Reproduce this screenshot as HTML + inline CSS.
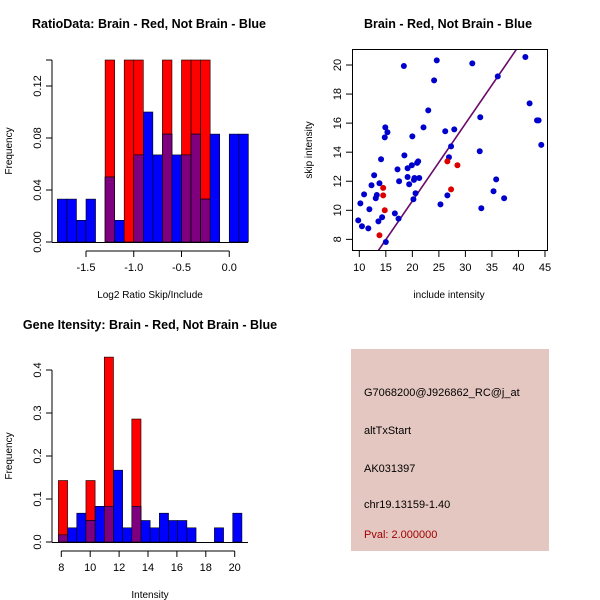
<!DOCTYPE html>
<html><head><meta charset="utf-8"><style>
body{margin:0;background:#fff}
svg{display:block;font-family:"Liberation Sans",Arial,sans-serif}
</style></head><body>
<svg id="chart" width="600" height="600" viewBox="0 0 600 600" xmlns="http://www.w3.org/2000/svg">
<rect width="600" height="600" fill="#fff"/>
<g id="p1"></g>
<g id="p2"></g>
<g id="p3"></g>
<g>
<rect x="351" y="349" width="198" height="202" fill="#e5c7c1"/>
<g font-size="11" fill="#000">
<text x="364" y="396">G7068200@J926862_RC@j_at</text>
<text x="364" y="434">altTxStart</text>
<text x="364" y="472">AK031397</text>
<text x="364" y="508">chr19.13159-1.40</text>
<text x="364" y="538" fill="#a00000">Pval: 2.000000</text>
</g></g>
</svg>
<script>
// ---- Plot 1 data ----
const ratioBinStart = -1.8;
const ratioBinWidth = 0.1;
const ratioBlue = [0.033,0.033,0.0167,0.033,0,0.05,0.0167,0,0.067,0.1,0.067,0.083,0.067,0.067,0.083,0.033,0.083,0,0.083,0.083];
const ratioRed  = [0,0,0,0,0,0.14,0,0.14,0.14,0,0,0.14,0,0.14,0.14,0.14,0,0,0,0];
const ratioXTicks = [-1.5,-1.0,-0.5,0.0];
const ratioXLabels = ["-1.5","-1.0","-0.5","0.0"];
const ratioYTicks = [0,0.04,0.08,0.12];
const ratioYLabels = ["0.00","0.04","0.08","0.12"];
// ---- Plot 3 data ----
const geneBinStart = 7.8;
const geneBinWidth = 0.635;
const geneBlue = [0.0167,0.033,0.067,0.05,0.083,0.083,0.167,0.033,0.083,0.05,0.033,0.067,0.05,0.05,0.033,0,0,0.033,0,0.067];
const geneRed  = [0.143,0,0,0.143,0,0.43,0,0,0.286,0,0,0,0,0,0,0,0,0,0,0];
const geneXTicks = [8,10,12,14,16,18,20];
const geneYTicks = [0,0.1,0.2,0.3,0.4];
const geneYLabels = ["0.0","0.1","0.2","0.3","0.4"];
// ---- Plot 2 data ----
const blueX = [9.8,10.5,10.2,10.9,11.7,11.9,12.3,12.8,13.1,13.3,13.6,13.8,14.1,14.3,14.9,14.8,15.3,15.0,16.7,17.2,17.4,17.5,18.4,18.5,19.1,19.1,19.4,19.9,20.0,20.2,20.3,20.4,20.6,20.9,21.1,21.3,22.1,23.0,24.1,24.6,25.3,26.2,26.6,26.9,27.3,27.9,31.3,32.7,32.8,33.0,35.3,35.8,36.1,37.3,41.3,42.1,43.5,43.8,44.3];
const blueY = [9.31,8.9,10.48,11.1,8.76,10.07,11.72,12.41,10.83,11.05,9.24,11.86,13.51,9.52,15.71,15.02,15.37,7.82,9.79,12.82,9.43,12.0,19.93,13.78,12.29,12.89,11.79,13.1,15.09,10.76,12.09,12.22,11.17,13.26,13.37,12.22,15.71,16.88,18.94,20.32,10.41,15.44,11.03,13.65,14.4,15.57,20.11,14.06,16.4,10.14,11.31,12.13,19.22,10.83,20.55,17.36,16.19,16.19,14.5];
const redX = [13.8,14.5,14.5,14.8,26.6,27.3,28.5];
const redY = [8.28,11.54,11.03,10.0,13.37,11.44,13.1];
const lineSlope = 0.532;
const lineIntercept = 0.0;
const scatXTicks = [10,15,20,25,30,35,40,45];
const scatYTicks = [8,10,12,14,16,18,20];

const NS="http://www.w3.org/2000/svg";
function mk(parent,tag,attrs){const e=document.createElementNS(NS,tag);for(const k in attrs)e.setAttribute(k,attrs[k]);parent.appendChild(e);return e;}
function txt(parent,x,y,s,size,extra){const t=mk(parent,'text',Object.assign({x:x,y:y,'font-size':size,'text-anchor':'middle'},extra||{}));t.textContent=s;return t;}

function histogram(g,o){
  const sx=v=>o.x0px+(v-o.x0)*o.xs, sy=v=>o.y0px-v*o.ys;
  txt(g,o.titleX,o.titleY,o.title,12.5,{'font-weight':'bold'});
  for(let i=0;i<o.blue.length;i++){
    const l=sx(o.start+i*o.w), r=sx(o.start+(i+1)*o.w);
    const b=o.blue[i], rd=o.red[i];
    if(rd>0){const e=mk(g,'rect',{x:l,y:sy(rd),width:r-l,height:sy(0)-sy(rd),fill:'#ff0000',stroke:'#000','stroke-width':0.6});
      
      }
    if(b>0){const e=mk(g,'rect',{x:l,y:sy(b),width:r-l,height:sy(0)-sy(b),fill:'#0000ff',stroke:'#000','stroke-width':0.6});
      
      }
    const m=Math.min(b,rd);
    if(m>0){const e=mk(g,'rect',{x:l,y:sy(m),width:r-l,height:sy(0)-sy(m),fill:'#7f007f',stroke:'#000','stroke-width':0.6});
      
      }
  }
  mk(g,'line',{x1:o.boxL,x2:o.boxR,y1:sy(0)+0.5,y2:sy(0)+0.5,stroke:'#000'});
  const ya=mk(g,'g',{});
  
  
  const yt=o.yTicks;
  mk(ya,'line',{x1:o.boxL,x2:o.boxL,y1:sy(yt[0]),y2:sy(o.yTop),stroke:'#000'});
  const ytop=[...yt,o.yTop];
  ytop.forEach(v=>mk(ya,'line',{x1:o.boxL-6,x2:o.boxL,y1:sy(v),y2:sy(v),stroke:'#000'}));
  yt.forEach((v,i)=>{txt(ya,o.boxL-11,sy(v),o.yLabels[i],11,{transform:`rotate(-90 ${o.boxL-11} ${sy(v)})`});});
  txt(ya,12,(sy(0)+sy(o.yTop))/2,'Frequency',10,{transform:`rotate(-90 12 ${(sy(0)+sy(o.yTop))/2})`});
  const xa=mk(g,'g',{});
  
  
  const xt=o.xTicks, ay=o.axisY;
  mk(xa,'line',{x1:sx(xt[0]),x2:sx(xt[xt.length-1]),y1:ay,y2:ay,stroke:'#000'});
  xt.forEach((v,i)=>{mk(xa,'line',{x1:sx(v),x2:sx(v),y1:ay,y2:ay+6,stroke:'#000'});txt(xa,sx(v),ay+20,o.xLabels[i],11);});
  txt(xa,(o.boxL+o.boxR)/2,ay+47,o.xTitle,10);
}

histogram(document.getElementById('p1'),{title:'RatioData: Brain - Red, Not Brain - Blue',titleX:149,titleY:28,
  start:ratioBinStart,w:ratioBinWidth,blue:ratioBlue,red:ratioRed,x0:-1.5,x0px:86,xs:95.5,y0px:242,ys:1300,
  boxL:52,boxR:248,yTicks:ratioYTicks,yLabels:ratioYLabels,yTop:0.14,xTicks:ratioXTicks,xLabels:ratioXLabels,axisY:251,xTitle:'Log2 Ratio Skip/Include'});
histogram(document.getElementById('p3'),{title:'Gene Itensity: Brain - Red, Not Brain - Blue',titleX:150,titleY:329,
  start:geneBinStart,w:geneBinWidth,blue:geneBlue,red:geneRed,x0:8,x0px:61.3,xs:14.45,y0px:542,ys:430,
  boxL:52,boxR:248,yTicks:geneYTicks,yLabels:geneYLabels,yTop:0.4,xTicks:geneXTicks,xLabels:geneXTicks.map(String),axisY:551,xTitle:'Intensity'});

(function(){
  const g=document.getElementById('p2');
  const L=352,R=548,T=49,B=251;
  const sx=v=>359.3+(v-10)*5.305, sy=v=>65+(20-v)*14.53;
  txt(g,448,28,'Brain - Red, Not Brain - Blue',12.5,{'font-weight':'bold'});
  const defs=mk(g,'defs',{});const cp=mk(defs,'clipPath',{id:'clip2'});mk(cp,'rect',{x:L,y:T,width:R-L,height:B-T});
  const lx1=8,lx2=50;
  const ln=mk(g,'line',{x1:sx(lx1),y1:sy(lineSlope*lx1+lineIntercept),x2:sx(lx2),y2:sy(lineSlope*lx2+lineIntercept),stroke:'#6a0a6a','stroke-width':1.6,'clip-path':'url(#clip2)'});
  
  
  blueX.forEach((x,i)=>{const c=mk(g,'circle',{cx:sx(x),cy:sy(blueY[i]),r:3,fill:'#0000cc'});
    
    });
  redX.forEach((x,i)=>{const c=mk(g,'circle',{cx:sx(x),cy:sy(redY[i]),r:3,fill:'#dd0000'});
    
    });
  mk(g,'rect',{x:L+0.5,y:T+0.5,width:R-L-1,height:B-T-1,fill:'none',stroke:'#000'});
  scatXTicks.forEach(v=>{mk(g,'line',{x1:sx(v),x2:sx(v),y1:B,y2:B+6,stroke:'#000'});txt(g,sx(v),B+20,String(v),11);});
  scatYTicks.forEach(v=>{mk(g,'line',{x1:L-6,x2:L,y1:sy(v),y2:sy(v),stroke:'#000'});txt(g,L-11,sy(v),String(v),11,{transform:`rotate(-90 ${L-11} ${sy(v)})`});});
  txt(g,449,298,'include intensity',10);
  txt(g,312,150,'skip intensity',10,{transform:'rotate(-90 312 150)'});
})();
</script>
</body></html>
